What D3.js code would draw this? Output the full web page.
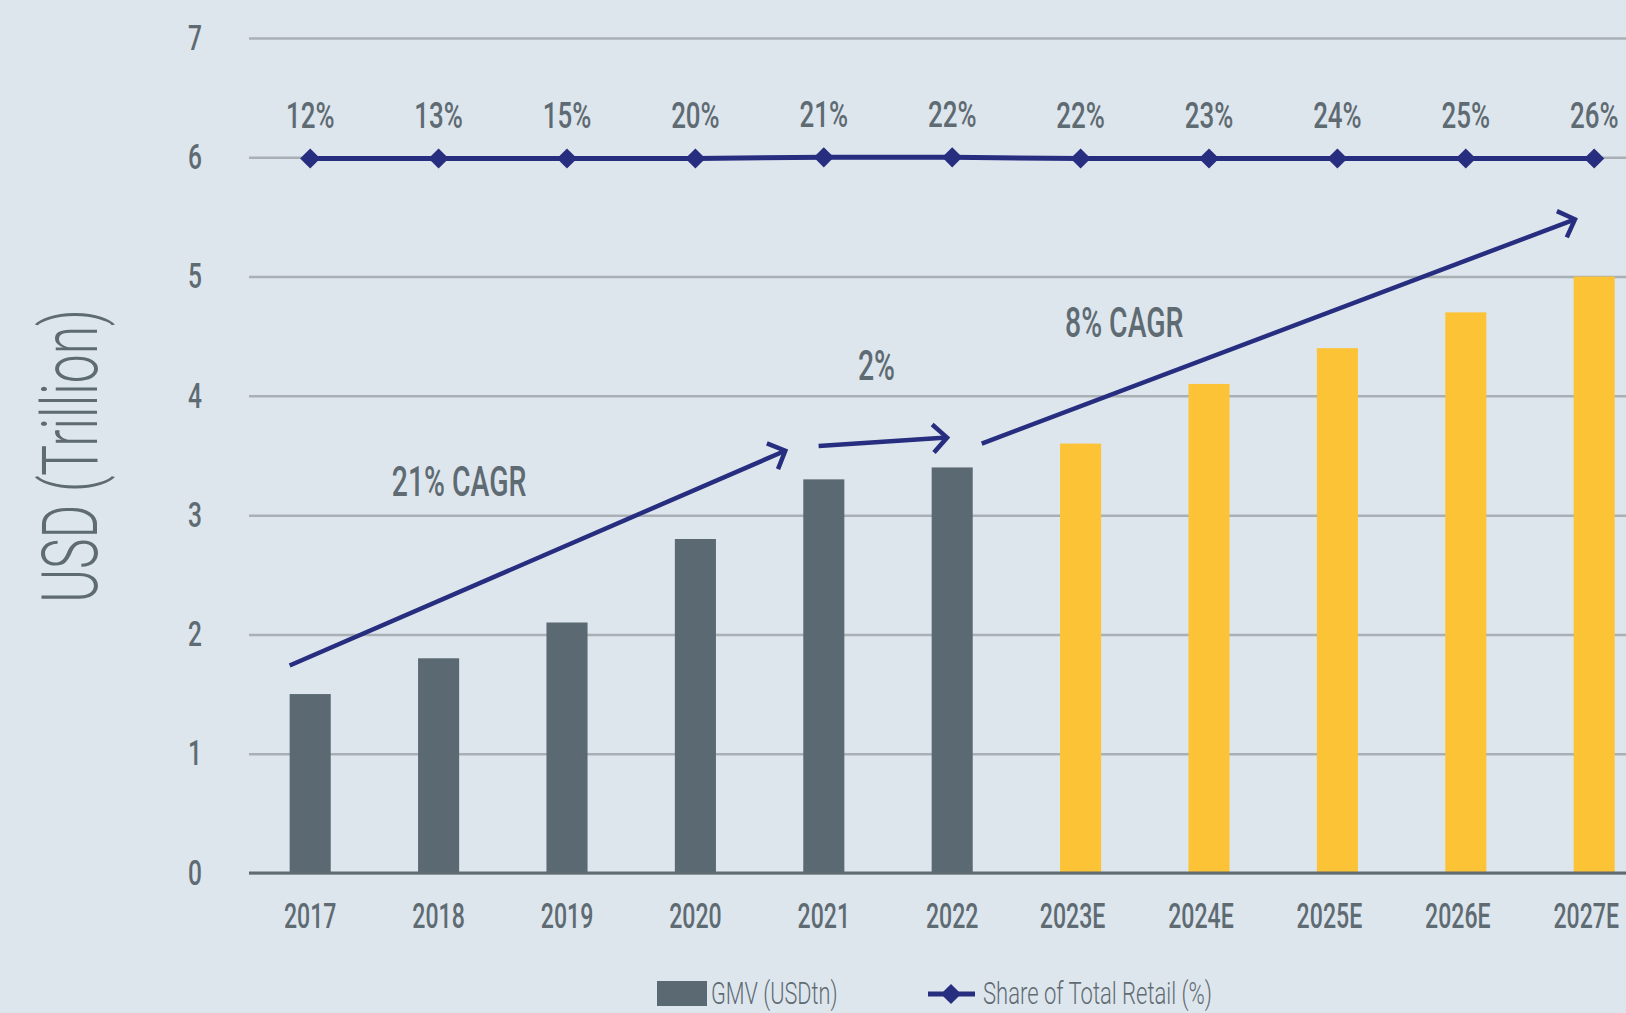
<!DOCTYPE html>
<html>
<head>
<meta charset="utf-8">
<script src="https://cdn.jsdelivr.net/npm/d3@7"></script>
<style>
  html, body { margin: 0; padding: 0; background: #dee6ed; overflow: hidden; }
  text { font-family: "Roboto", "Noto Sans", sans-serif; fill: #5e6b73; }
</style>
</head>
<body>
<div id="chart"></div>
<script>
// data
var years = ["2017", "2018", "2019", "2020", "2021", "2022", "2023E", "2024E", "2025E", "2026E", "2027E"];
var gmv = [1.5, 1.8, 2.1, 2.8, 3.3, 3.4, 3.6, 4.1, 4.4, 4.7, 5.0];
var isEstimate = [false, false, false, false, false, false, true, true, true, true, true];
var shareLabels = ["12%", "13%", "15%", "20%", "21%", "22%", "22%", "23%", "24%", "25%", "26%"];
var sharePlotY = [5.99, 5.99, 5.99, 5.99, 6.0, 6.0, 5.99, 5.99, 5.99, 5.99, 5.99];
var yTicks = [0, 1, 2, 3, 4, 5, 6, 7];
// annotation arrows: [x index, value] -> [x index, value]
var arrows = [
    { from: [-0.16, 1.74], to: [3.70, 3.54] },
    { from: [3.96, 3.58], to: [4.96, 3.65] },
    { from: [5.23, 3.60], to: [9.85, 5.48] }
];
var notes = [
    { text: "21% CAGR", at: [1.16, 3.29] },
    { text: "2%", at: [4.41, 4.26] },
    { text: "8% CAGR", at: [6.34, 4.62] }
];

var W = 1626, H = 1013;
var plotLeft = 249, plotTop = 38, plotBottom = 873;
var step = 128.4;

// squeeze a text horizontally (the original face is a condensed one)
function condense(sel, f) {
    sel.each(function () {
        var w = this.getComputedTextLength();
        d3.select(this).attr("textLength", w * f).attr("lengthAdjust", "spacingAndGlyphs");
    });
}

var svg = d3.select("#chart").append("svg")
    .attr("width", W)
    .attr("height", H);

var x = d3.scaleBand()
    .domain(years)
    .range([plotLeft - 3, plotLeft - 3 + step * years.length])
    .paddingInner(0.68)
    .paddingOuter(0.34);

var y = d3.scaleLinear()
    .domain([0, 7])
    .range([plotBottom, plotTop]);

// index -> x centre, for annotations
var xi = d3.scaleLinear()
    .domain([0, 1])
    .range([x(years[0]) + x.bandwidth() / 2, x(years[1]) + x.bandwidth() / 2]);

// grid + y labels
var yAxis = svg.append("g")
    .attr("transform", "translate(" + plotLeft + ",0)")
    .call(d3.axisLeft(y).tickValues(yTicks).tickSize(-(W - plotLeft)).tickPadding(54).tickFormat(d3.format("d")));
yAxis.select(".domain").remove();
yAxis.selectAll(".tick line")
    .attr("stroke", "#a9b0b5")
    .attr("stroke-width", 2.5);
yAxis.selectAll(".tick text")
    .style("font-size", "35px")
    .style("font-weight", 500)
    .attr("fill", "#5e6b73")
    .attr("text-anchor", "middle")
    .call(condense, 0.7);

// bars
svg.append("g").selectAll("rect")
    .data(years)
    .enter()
    .append("rect")
    .attr("x", function (d) { return x(d); })
    .attr("width", x.bandwidth())
    .attr("y", function (d, i) { return y(gmv[i]); })
    .attr("height", function (d, i) { return y(0) - y(gmv[i]); })
    .attr("fill", function (d, i) { return isEstimate[i] ? "#fcc337" : "#5b6a72"; });

// baseline
svg.append("line")
    .attr("x1", plotLeft).attr("x2", W)
    .attr("y1", y(0)).attr("y2", y(0))
    .attr("stroke", "#5e6b73")
    .attr("stroke-width", 3);

// x labels
var xAxis = svg.append("g")
    .attr("transform", "translate(0," + y(0) + ")")
    .call(d3.axisBottom(x).tickSize(0).tickPadding(30));
xAxis.select(".domain").remove();
xAxis.selectAll(".tick text")
    .style("font-size", "35px")
    .style("font-weight", 500)
    .attr("fill", "#5e6b73")
    .attr("dx", function (d) { return d.indexOf("E") > 0 ? -8 : 0; })
    .call(condense, 0.66);

// share line
var navy = "#272d7f";
var line = d3.line()
    .x(function (d, i) { return x(years[i]) + x.bandwidth() / 2; })
    .y(function (d) { return y(d); });
svg.append("path")
    .datum(sharePlotY)
    .attr("d", line)
    .attr("fill", "none")
    .attr("stroke", navy)
    .attr("stroke-width", 5);

var diamond = d3.symbol().type(d3.symbolDiamond2).size(260);
svg.append("g").selectAll("path")
    .data(sharePlotY)
    .enter()
    .append("path")
    .attr("d", diamond)
    .attr("transform", function (d, i) { return "translate(" + (x(years[i]) + x.bandwidth() / 2) + "," + y(d) + ")"; })
    .attr("fill", navy);

svg.append("g").selectAll("text")
    .data(shareLabels)
    .enter()
    .append("text")
    .attr("x", function (d, i) { return x(years[i]) + x.bandwidth() / 2; })
    .attr("y", function (d, i) { return y(sharePlotY[i]) - 30; })
    .attr("text-anchor", "middle")
    .style("font-size", "37px")
    .style("font-weight", 500)
    .text(function (d) { return d; })
    .call(condense, 0.7);

// arrows
svg.append("defs").append("marker")
    .attr("id", "head")
    .attr("viewBox", "-20 -20 40 40")
    .attr("refX", 0).attr("refY", 0)
    .attr("markerWidth", 40).attr("markerHeight", 40)
    .attr("markerUnits", "userSpaceOnUse")
    .attr("orient", "auto")
    .append("path")
    .attr("d", "M-14,-14 L0,0 L-14,14")
    .attr("fill", "none")
    .attr("stroke", navy)
    .attr("stroke-width", 4.5);

svg.append("g").selectAll("line")
    .data(arrows)
    .enter()
    .append("line")
    .attr("x1", function (d) { return xi(d.from[0]); })
    .attr("y1", function (d) { return y(d.from[1]); })
    .attr("x2", function (d) { return xi(d.to[0]); })
    .attr("y2", function (d) { return y(d.to[1]); })
    .attr("stroke", navy)
    .attr("stroke-width", 4.5)
    .attr("marker-end", "url(#head)");

svg.append("g").selectAll("text")
    .data(notes)
    .enter()
    .append("text")
    .attr("x", function (d) { return xi(d.at[0]); })
    .attr("y", function (d) { return y(d.at[1]); })
    .attr("dy", "0.35em")
    .attr("text-anchor", "middle")
    .style("font-size", "43px")
    .style("font-weight", 500)
    .text(function (d) { return d.text; })
    .call(condense, 0.66);

// y title
svg.append("text")
    .attr("transform", "translate(97,456) rotate(-90)")
    .attr("text-anchor", "middle")
    .style("font-size", "78px")
    .style("font-weight", 300)
    .attr("fill", "#66757d")
    .text("USD (Trillion)")
    .call(condense, 0.66);

// legend
var lg = svg.append("g");
lg.append("rect")
    .attr("x", 657).attr("y", 981)
    .attr("width", 50).attr("height", 25)
    .attr("fill", "#5b6a72");
lg.append("text")
    .attr("x", 711).attr("y", 1004)
    .style("font-size", "31px")
    .style("font-weight", 300)
    .text("GMV (USDtn)")
    .call(condense, 0.7);
lg.append("line")
    .attr("x1", 928).attr("x2", 975)
    .attr("y1", 994).attr("y2", 994)
    .attr("stroke", navy).attr("stroke-width", 5);
lg.append("path")
    .attr("d", diamond)
    .attr("transform", "translate(951,994)")
    .attr("fill", navy);
lg.append("text")
    .attr("x", 983).attr("y", 1004)
    .style("font-size", "31px")
    .style("font-weight", 300)
    .text("Share of Total Retail (%)")
    .call(condense, 0.71);
</script>
</body>
</html>
